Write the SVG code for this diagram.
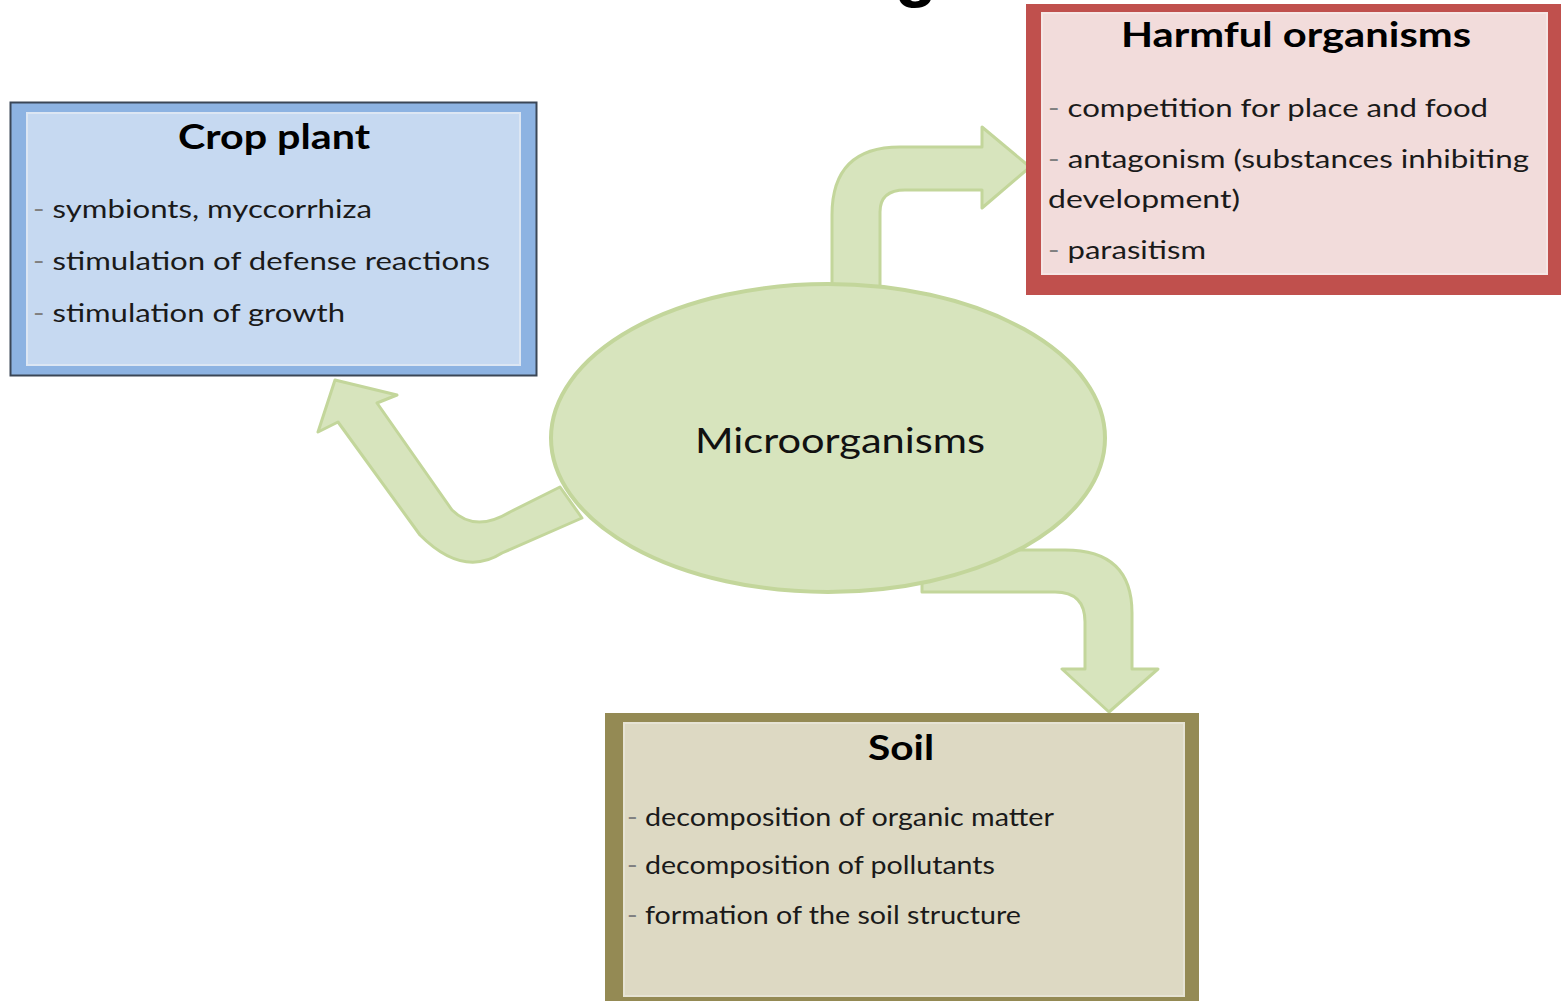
<svg xmlns="http://www.w3.org/2000/svg" width="1561" height="1001" viewBox="0 0 1561 1001">
  <style>
    .title { font-family: Lato, "Liberation Sans", sans-serif; font-weight: bold; font-size: 34px; fill: #000; }
    .item { font-family: Lato, "Liberation Sans", sans-serif; font-size: 25px; fill: #1a1a1a; }
    .dash { fill: #808080; }
    .center { font-family: Lato, "Liberation Sans", sans-serif; font-size: 34px; fill: #111; }
    .arrow { fill: #d7e4bd; stroke: #c3d69b; stroke-width: 3; stroke-linejoin: round; }
  </style>
  <rect x="0" y="0" width="1561" height="1001" fill="#ffffff"/>

  <text id="title-fragment" x="916" y="-7" text-anchor="middle" style="font-family:'Liberation Sans',sans-serif;font-weight:bold;font-size:70px;fill:#000">g</text>

  <g id="connectors">
    <path id="arrow-to-harmful" class="arrow" d="M 832 300 L 832 215 Q 832 147 900 147 L 982 147 L 982 127 L 1030 167 L 982 208 L 982 190 L 905 190 Q 880 190 880 212 L 880 300 Z"/>
    <path id="arrow-to-crop" class="arrow" d="M 560 487 L 510 512 Q 475 533 452 510 L 377 403 L 397 395 L 335 380 L 318 432 L 338 422 L 420 535 Q 463 578 502 553 L 582 518 Z"/>
    <path id="arrow-to-soil" class="arrow" d="M 922 550 L 1065 550 Q 1132 550 1132 613 L 1132 669 L 1158 669 L 1109 712 L 1062 669 L 1085 669 L 1085 622 Q 1085 592 1055 592 L 922 592 Z"/>
  </g>

  <g id="node-micro">
    <ellipse cx="828" cy="438" rx="277" ry="154" fill="#d7e4bd" stroke="#c3d69b" stroke-width="4"/>
    <text class="center" x="695" y="453" textLength="290" lengthAdjust="spacingAndGlyphs">Microorganisms</text>
  </g>

  <g id="node-crop">
    <rect x="10.5" y="102.5" width="526" height="273" fill="#8db3e2" stroke="#3a4656" stroke-width="2"/>
    <rect x="27" y="113" width="493" height="252" fill="#c6d9f1" stroke="#dce6f3" stroke-width="2"/>
    <text class="title" x="178" y="149" textLength="192" lengthAdjust="spacingAndGlyphs">Crop plant</text>
    <text class="item" x="33" y="218" textLength="339" lengthAdjust="spacingAndGlyphs"><tspan class="dash">-</tspan> symbionts, myccorrhiza</text>
    <text class="item" x="33" y="270" textLength="457" lengthAdjust="spacingAndGlyphs"><tspan class="dash">-</tspan> stimulation of defense reactions</text>
    <text class="item" x="33" y="322" textLength="312" lengthAdjust="spacingAndGlyphs"><tspan class="dash">-</tspan> stimulation of growth</text>
  </g>

  <g id="node-harmful">
    <rect x="1026" y="4" width="545" height="291" fill="#c0504d"/>
    <rect x="1042" y="13" width="505" height="261" fill="#f2dcdb" stroke="#f6e6e5" stroke-width="2"/>
    <text class="title" x="1121" y="47" textLength="350" lengthAdjust="spacingAndGlyphs">Harmful organisms</text>
    <text class="item" x="1048" y="117" textLength="440" lengthAdjust="spacingAndGlyphs"><tspan class="dash">-</tspan> competition for place and food</text>
    <text class="item" x="1048" y="168" textLength="481" lengthAdjust="spacingAndGlyphs"><tspan class="dash">-</tspan> antagonism (substances inhibiting</text>
    <text class="item" x="1048" y="208" textLength="192" lengthAdjust="spacingAndGlyphs">development)</text>
    <text class="item" x="1048" y="259" textLength="158" lengthAdjust="spacingAndGlyphs"><tspan class="dash">-</tspan> parasitism</text>
  </g>

  <g id="node-soil">
    <rect x="605" y="713" width="594" height="300" fill="#948a54"/>
    <rect x="624" y="723" width="560" height="273" fill="#ddd9c3" stroke="#e6e3d4" stroke-width="2"/>
    <text class="title" x="868" y="760" textLength="66" lengthAdjust="spacingAndGlyphs">Soil</text>
    <text class="item" x="627" y="826" textLength="427" lengthAdjust="spacingAndGlyphs"><tspan class="dash">-</tspan> decomposition of organic matter</text>
    <text class="item" x="627" y="874" textLength="368" lengthAdjust="spacingAndGlyphs"><tspan class="dash">-</tspan> decomposition of pollutants</text>
    <text class="item" x="627" y="924" textLength="394" lengthAdjust="spacingAndGlyphs"><tspan class="dash">-</tspan> formation of the soil structure</text>
  </g>
</svg>
